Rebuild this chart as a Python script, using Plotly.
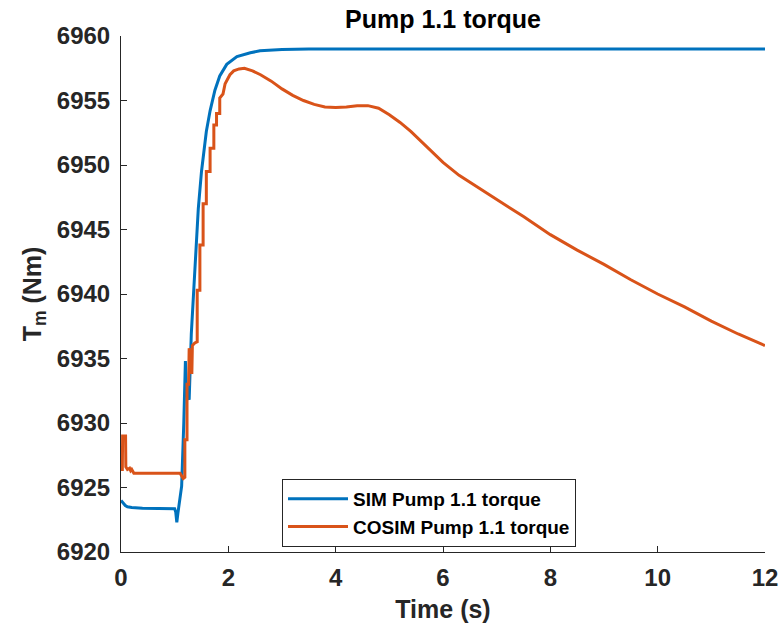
import plotly.graph_objects as go

# ---- data ----
sim_t = [0, 0.04, 0.08, 0.12, 0.2, 0.4, 0.7, 1.0, 1.02, 1.04, 1.06, 1.1, 1.13, 1.17,
         1.2, 1.22, 1.27, 1.31, 1.375, 1.44, 1.5, 1.59, 1.66, 1.75, 1.84, 1.97,
         2.16, 2.41, 2.59, 2.8, 3.0, 3.5, 4, 5, 6, 8, 10, 12]
sim_v = [6924.0, 6923.8, 6923.6, 6923.5, 6923.45, 6923.4, 6923.35, 6923.35, 6923.1,
         6922.3, 6923.0, 6924.0, 6925.1, 6930.0, 6934.8, 6932.5, 6931.8, 6936.9,
         6942.1, 6946.6, 6949.5, 6952.6, 6954.2, 6955.8, 6956.9, 6957.8, 6958.4,
         6958.7, 6958.85, 6958.9, 6958.95, 6959.0, 6959.0, 6959.0, 6959.0, 6959.0,
         6959.0, 6959.0]

cosim_t = [0, 0.025, 0.03, 0.085, 0.09, 0.12, 0.16, 0.18, 0.2, 0.24, 1.1, 1.16, 1.19,
           1.19, 1.23, 1.23, 1.26, 1.27, 1.29, 1.30, 1.32, 1.33, 1.375, 1.42, 1.42,
           1.47, 1.47, 1.53, 1.53, 1.59, 1.59, 1.66, 1.66, 1.73, 1.73, 1.78, 1.78,
           1.84, 1.84, 1.9, 1.94, 2.03, 2.1, 2.2, 2.3, 2.45, 2.6, 2.8, 3.0, 3.2, 3.4,
           3.6, 3.8, 4.0, 4.2, 4.4, 4.6, 4.8, 5.0, 5.2, 5.4, 5.6, 5.8, 6.0, 6.3, 6.6,
           7.0, 7.5, 8.0, 8.5, 9.0, 9.5, 10, 10.5, 11, 11.5, 12]
cosim_v = [6926.4, 6926.4, 6929.0, 6929.0, 6926.6, 6926.4, 6926.5, 6926.3, 6926.4,
           6926.1, 6926.1, 6925.7, 6925.8, 6928.7, 6928.7, 6933.0, 6933.0, 6935.8,
           6934.0, 6935.6, 6933.8, 6936.0, 6936.2, 6936.3, 6940.3, 6940.3, 6943.8,
           6943.8, 6947.0, 6947.0, 6949.5, 6949.5, 6951.3, 6951.3, 6953.1, 6953.1,
           6954.0, 6954.0, 6955.2, 6955.5, 6956.3, 6957.0, 6957.3, 6957.45, 6957.5,
           6957.3, 6957.0, 6956.5, 6955.9, 6955.4, 6955.0, 6954.7, 6954.5, 6954.45,
           6954.5, 6954.6, 6954.6, 6954.4, 6953.9, 6953.3, 6952.6, 6951.8, 6951.0,
           6950.2, 6949.2, 6948.4, 6947.4, 6946.0, 6944.6, 6943.4, 6942.3, 6941.1,
           6940.0, 6939.0, 6937.9, 6936.9, 6936.0]

x_ticks = [0, 2, 4, 6, 8, 10, 12]
y_ticks = [6920, 6925, 6930, 6935, 6940, 6945, 6950, 6955, 6960]

FONT = "Liberation Sans"
AX = "#262626"

fig = go.Figure()
fig.add_trace(go.Scatter(x=sim_t, y=sim_v, mode="lines", name="SIM Pump 1.1 torque",
                         line=dict(color="#0072BD", width=3)))
fig.add_trace(go.Scatter(x=cosim_t, y=cosim_v, mode="lines", name="COSIM Pump 1.1 torque",
                         line=dict(color="#D95319", width=3)))

fig.update_layout(
    width=783, height=628,
    margin=dict(l=121, r=18, t=36, b=76, autoexpand=False),
    plot_bgcolor="white", paper_bgcolor="white",
    font=dict(family=FONT, color="#000000"),
    title=dict(text="Pump 1.1 torque", x=0.5, xref="paper", y=1 - 19 / 628,
               yref="container", yanchor="middle", xanchor="center",
               font=dict(size=25, family=FONT, weight="bold", color="#000000")),
    showlegend=True,
    legend=dict(x=0.25, y=0.1415, xanchor="left", yanchor="top",
                bordercolor=AX, borderwidth=1, bgcolor="white",
                font=dict(size=19, family=FONT, weight="bold", color="#000000"),
                itemwidth=60, tracegroupgap=0),
)
fig.update_xaxes(range=[0, 12], tickvals=x_ticks, ticks="inside", ticklen=6,
                 tickcolor=AX, showline=True, linecolor=AX, linewidth=1,
                 showgrid=False, zeroline=False, ticklabelstandoff=4,
                 tickfont=dict(size=24, family=FONT, weight="bold", color=AX),
                 title=dict(text="Time (s)", standoff=10,
                            font=dict(size=25, family=FONT, weight="bold", color=AX)))
fig.update_yaxes(range=[6920, 6960], tickvals=y_ticks, ticks="inside", ticklen=6,
                 tickcolor=AX, showline=True, linecolor=AX, linewidth=1,
                 showgrid=False, zeroline=False, ticklabelstandoff=5,
                 tickfont=dict(size=24, family=FONT, weight="bold", color=AX),
                 title=dict(text="T<sub>m</sub> (Nm)", standoff=8,
                            font=dict(size=25, family=FONT, weight="bold", color=AX)))

fig.write_html("out.html", config={"displayModeBar": False},
               post_script="document.body.style.margin='0';document.body.style.overflow='hidden';")
